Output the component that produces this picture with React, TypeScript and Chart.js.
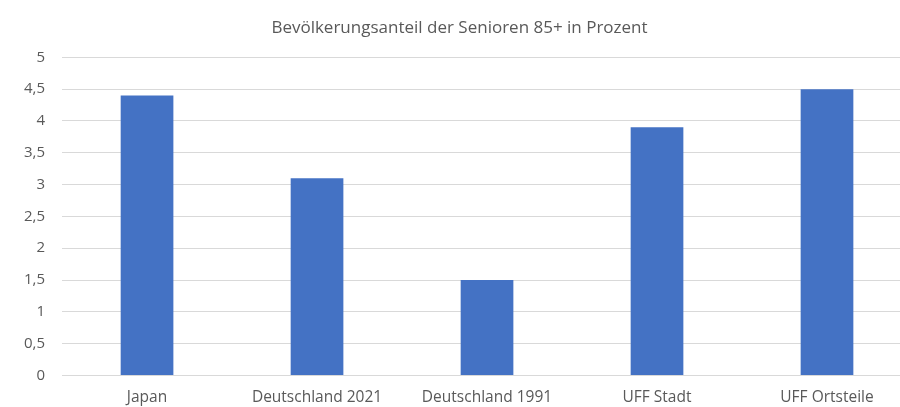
import React, { useEffect, useRef } from "react";
import { Chart, registerables } from "chart.js";

Chart.register(...registerables);

const categories = ["Japan", "Deutschland 2021", "Deutschland 1991", "UFF Stadt", "UFF Ortsteile"];
const values = [4.4, 3.1, 1.5, 3.9, 4.5];
const titleText = "Bevölkerungsanteil der Senioren 85+ in Prozent";

export default function App() {
  const ref = useRef<HTMLCanvasElement | null>(null);
  useEffect(() => {
    document.body.style.margin = "0";
    const ctx = ref.current!;
    const chart = new Chart(ctx, {
      type: "bar",
      data: {
        labels: categories,
        datasets: [
          {
            data: values,
            backgroundColor: "#4472C4",
            barPercentage: 0.31,
            categoryPercentage: 1,
          },
        ],
      },
      options: {
        responsive: false,
        animation: false,
        devicePixelRatio: 1,
        layout: { padding: { left: 7, right: 3, top: 0, bottom: 0 } },
        plugins: {
          legend: { display: false },
          tooltip: { enabled: false },
          title: {
            display: true,
            text: titleText,
            color: "#595959",
            font: { family: "'Open Sans', sans-serif", size: 17, weight: "normal" },
            padding: { top: 18, bottom: 19 },
          },
        },
        scales: {
          x: {
            grid: { display: false, drawTicks: false },
            border: { display: false },
            ticks: {
              color: "#595959",
              font: { family: "'Open Sans', sans-serif", size: 15.5 },
              padding: 13,
              maxRotation: 0,
            },
          },
          y: {
            min: 0,
            max: 5,
            grid: { color: "#d9d9d9", drawTicks: false },
            border: { display: false },
            ticks: {
              stepSize: 0.5,
              color: "#595959",
              font: { family: "'Open Sans', sans-serif", size: 15 },
              padding: 17,
              callback: (v: any) => String(Number(v)).replace(".", ","),
            },
          },
        },
      },
    });
    return () => chart.destroy();
  }, []);
  return (
    <div style={{ position: "absolute", left: 0, top: 0, width: 900, height: 407, overflow: "hidden", background: "#fff" }}>
      <canvas ref={ref} width={915} height={420} style={{ width: 915, height: 420 }} />
    </div>
  );
}
